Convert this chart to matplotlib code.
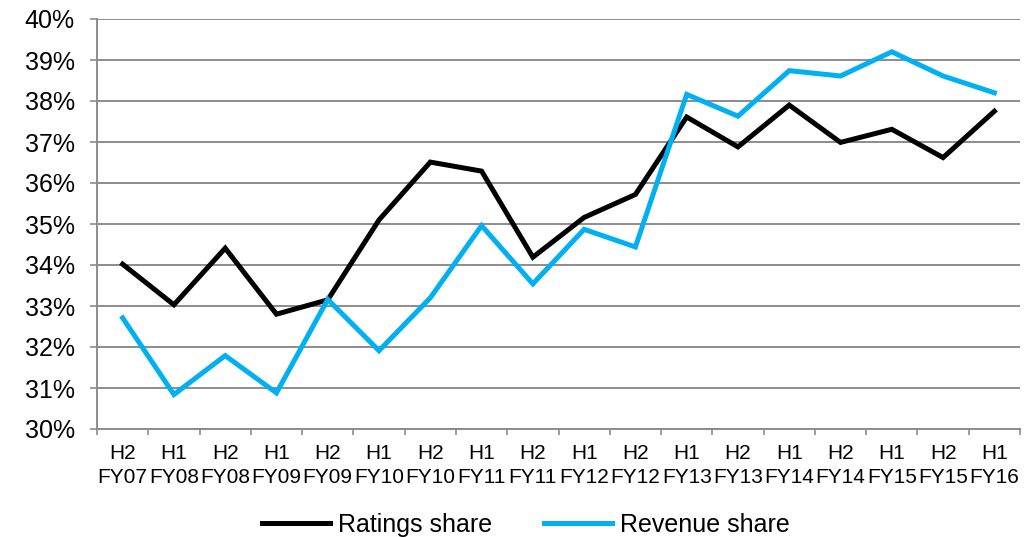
import matplotlib
matplotlib.use("Agg")
import matplotlib.pyplot as plt
from matplotlib.ticker import FixedLocator, FuncFormatter

plt.rcParams['font.family'] = ['Liberation Sans', 'DejaVu Sans']

periods = ["H2\nFY07", "H1\nFY08", "H2\nFY08", "H1\nFY09", "H2\nFY09", "H1\nFY10",
           "H2\nFY10", "H1\nFY11", "H2\nFY11", "H1\nFY12", "H2\nFY12", "H1\nFY13",
           "H2\nFY13", "H1\nFY14", "H2\nFY14", "H1\nFY15", "H2\nFY15", "H1\nFY16"]

ratings_share = [34.02, 33.03, 34.41, 32.80, 33.15, 35.1, 36.51, 36.29, 34.19,
                 35.16, 35.72, 37.61, 36.88, 37.90, 36.99, 37.31, 36.62, 37.75]
revenue_share = [32.71, 30.84, 31.79, 30.88, 33.16, 31.91, 33.2, 34.96, 33.54,
                 34.87, 34.44, 38.16, 37.63, 38.74, 38.61, 39.20, 38.61, 38.20]

fig = plt.figure(figsize=(10.27, 5.37), dpi=100)
ax = fig.add_axes([97 / 1027, 1 - 429 / 537, (1020 - 97) / 1027, (429 - 19) / 537])

x = list(range(len(periods)))
ax.plot(x, ratings_share, color="black", lw=3.6, label="Ratings share",
        solid_joinstyle="miter", zorder=3)
ax.plot(x, revenue_share, color="#00B0F0", lw=3.6, label="Revenue share",
        solid_joinstyle="miter", zorder=3)

ax.set_xlim(-0.5, len(periods) - 0.5)
ax.set_ylim(30, 40)
ax.yaxis.set_major_locator(FixedLocator(range(30, 41)))
ax.yaxis.set_major_formatter(FuncFormatter(lambda v, p: f"{v:.0f}%"))
ax.grid(axis="y", color="#8c8c8c", lw=1.4, zorder=0)

ax.set_xticks(x)
ax.set_xticklabels(periods, fontsize=15, linespacing=1.3)
ax.tick_params(axis="x", which="major", length=0, pad=11)
ax.set_xticks([i + 0.5 for i in range(-1, len(periods))], minor=True)
ax.tick_params(axis="x", which="minor", length=4, width=1.2, color="#8c8c8c", direction="out")
ax.tick_params(axis="y", length=5, width=1.2, color="#8c8c8c", labelsize=18, pad=11)

for s in ["top", "right"]:
    ax.spines[s].set_visible(False)
for s in ["left", "bottom"]:
    ax.spines[s].set_color("#8c8c8c")
    ax.spines[s].set_linewidth(1.4)

leg = fig.legend(loc="center", bbox_to_anchor=(0.512, 1 - 525 / 537), ncol=2,
                 frameon=False, fontsize=18, handlelength=2.7, columnspacing=2.1,
                 handletextpad=0.32, borderpad=0)

fig.savefig("out.png", dpi=100)
